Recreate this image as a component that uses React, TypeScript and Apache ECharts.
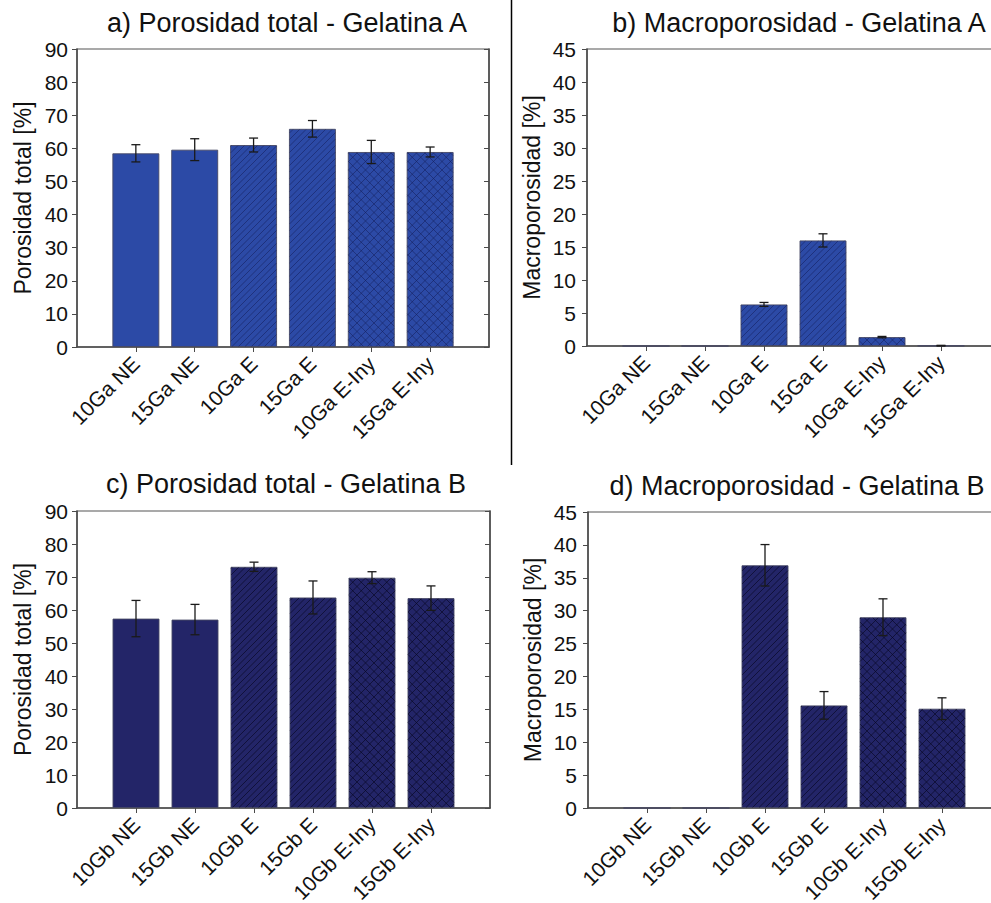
import React, { useEffect, useRef } from 'react';
import * as echarts from 'echarts';

// ---------- data ----------
const catsA = ['10Ga NE', '15Ga NE', '10Ga E', '15Ga E', '10Ga E-Iny', '15Ga E-Iny'];
const catsB = ['10Gb NE', '15Gb NE', '10Gb E', '15Gb E', '10Gb E-Iny', '15Gb E-Iny'];
// 0 = solid, 1 = diagonal hatch, 2 = cross hatch
const patterns = [0, 0, 1, 1, 2, 2];

const totalA = [58.5, 59.6, 61.0, 65.9, 58.9, 58.9];
const totalAErr = [2.6, 3.3, 2.1, 2.5, 3.5, 1.5];
const macroA = [0, 0, 6.3, 16.0, 1.35, 0.05];
const macroAErr = [0, 0, 0.3, 1.0, 0.1, 0.05];
const totalB = [57.4, 57.1, 73.1, 63.8, 69.8, 63.6];
const totalBErr = [5.5, 4.6, 1.4, 5.0, 1.8, 3.7];
const macroB = [0, 0, 36.9, 15.6, 29.0, 15.1];
const macroBErr = [0, 0, 3.15, 2.1, 2.8, 1.65];

const totalTicks = [0, 10, 20, 30, 40, 50, 60, 70, 80, 90];
const macroTicks = [0, 5, 10, 15, 20, 25, 30, 35, 40, 45];

const titles = [
  'a) Porosidad total - Gelatina A',
  'b) Macroporosidad - Gelatina A',
  'c) Porosidad total - Gelatina B',
  'd) Macroporosidad - Gelatina B',
];
const yNames = ['Porosidad total [%]', 'Macroporosidad [%]', 'Porosidad total [%]', 'Macroporosidad [%]'];

// ---------- styling ----------
const FONT = '"Liberation Sans", Arial, Helvetica, sans-serif';
const BAR_W = 47;
const colorA = '#2c4aa6';
const colorB = '#232568';
const hatchA = 'rgba(20,30,90,0.6)';
const hatchB = 'rgba(6,6,32,0.7)';
const AXIS = '#4a4a4a';

const grids = [
  { left: 77, top: 49, width: 412, height: 298 },
  { left: 587, top: 49, width: 413, height: 297 },
  { left: 77, top: 511, width: 413, height: 297 },
  { left: 588, top: 512, width: 413, height: 296 },
];

function makeRenderItem(hatchColor: string) {
  return (params: any, api: any) => {
    const xi = api.value(0);
    const v = api.value(1);
    const e = api.value(2);
    const p = api.value(3);
    const base = api.coord([xi, 0]);
    const top = api.coord([xi, v]);
    const cx = base[0];
    const half = BAR_W / 2;
    const x0 = cx - half + 0.6;
    const x1 = cx + half - 0.6;
    const y0 = top[1] + 0.6;
    const y1 = base[1] - 0.6;
    const children: any[] = [];
    const ls = { stroke: hatchColor, lineWidth: 0.9 };
    if (p >= 1 && y1 - y0 > 1.5) {
      const s = p === 1 ? 6.5 : 8.5;
      // "/" lines: x + y = c
      let c = Math.ceil((x0 + y0) / s) * s;
      for (; c <= x1 + y1; c += s) {
        const xa = Math.max(x0, c - y1);
        const xb = Math.min(x1, c - y0);
        if (xb - xa > 0.3) {
          children.push({ type: 'line', shape: { x1: xa, y1: c - xa, x2: xb, y2: c - xb }, style: ls, silent: true });
        }
      }
      if (p === 2) {
        // "\" lines: y - x = c
        let d = Math.ceil((y0 - x1) / s) * s;
        for (; d <= y1 - x0; d += s) {
          const xa = Math.max(x0, y0 - d);
          const xb = Math.min(x1, y1 - d);
          if (xb - xa > 0.3) {
            children.push({ type: 'line', shape: { x1: xa, y1: xa + d, x2: xb, y2: xb + d }, style: ls, silent: true });
          }
        }
      }
    }
    if (e > 0) {
      const hi = api.coord([xi, v + e])[1];
      const lo = api.coord([xi, Math.max(0, v - e)])[1];
      const es = { stroke: '#1a1a1a', lineWidth: 1.3 };
      const cap = 4.5;
      children.push({ type: 'line', shape: { x1: cx, y1: hi, x2: cx, y2: lo }, style: es });
      children.push({ type: 'line', shape: { x1: cx - cap, y1: hi, x2: cx + cap, y2: hi }, style: es });
      children.push({ type: 'line', shape: { x1: cx - cap, y1: lo, x2: cx + cap, y2: lo }, style: es });
    }
    return { type: 'group', children };
  };
}

export default function App() {
  const ref = useRef<HTMLDivElement>(null);
  useEffect(() => {
    if (!ref.current) return;
    const chart = echarts.init(ref.current, undefined, { renderer: 'svg' });

    const panels = [
      { cats: catsA, vals: totalA, errs: totalAErr, ticks: totalTicks, color: colorA, hatch: hatchA, right: true },
      { cats: catsA, vals: macroA, errs: macroAErr, ticks: macroTicks, color: colorA, hatch: hatchA, right: false },
      { cats: catsB, vals: totalB, errs: totalBErr, ticks: totalTicks, color: colorB, hatch: hatchB, right: true },
      { cats: catsB, vals: macroB, errs: macroBErr, ticks: macroTicks, color: colorB, hatch: hatchB, right: false },
    ];

    const xAxis: any[] = [];
    const yAxis: any[] = [];
    const series: any[] = [];
    const titleOpts: any[] = [];
    const titlePos = [
      { x: 282, y: 4 },
      { x: 794, y: 4 },
      { x: 281, y: 465 },
      { x: 792, y: 467 },
    ];

    panels.forEach((pn, i) => {
      const tk = pn.ticks;
      titleOpts.push({
        text: titles[i],
        left: titlePos[i].x,
        top: titlePos[i].y,
        textAlign: 'center',
        textStyle: { fontFamily: FONT, fontSize: 27, fontWeight: 'normal', color: '#111' },
      });
      xAxis.push({
        type: 'category',
        gridIndex: i,
        data: ['', ...pn.cats, ''],
        boundaryGap: false,
        axisLine: { lineStyle: { color: AXIS, width: 1.5 } },
        axisTick: { show: true, length: 5, interval: (idx: number) => idx >= 1 && idx <= pn.cats.length, lineStyle: { color: AXIS } },
        axisLabel: { interval: 0, rotate: 45, margin: 13, fontSize: 21, color: '#111', fontFamily: FONT },
        splitLine: { show: false },
      });
      yAxis.push({
        type: 'value',
        gridIndex: i,
        min: tk[0],
        max: tk[tk.length - 1],
        interval: tk[1] - tk[0],
        name: yNames[i],
        nameLocation: 'middle',
        nameGap: i % 2 === 0 ? 43 : 44,
        nameTextStyle: { fontFamily: FONT, fontSize: 23, color: '#111' },
        axisLine: { show: true, lineStyle: { color: AXIS, width: 1.5 } },
        axisTick: { show: true, length: 5, lineStyle: { color: AXIS } },
        axisLabel: { fontSize: 21, color: '#111', margin: i % 2 === 0 ? 9 : 11, fontFamily: FONT },
        splitLine: { show: false },
      });
    });
    // right-side axes with inward ticks for panels a and c
    panels.forEach((pn, i) => {
      if (!pn.right) return;
      const tk = pn.ticks;
      yAxis.push({
        type: 'value',
        gridIndex: i,
        position: 'right',
        min: tk[0],
        max: tk[tk.length - 1],
        interval: tk[1] - tk[0],
        axisLine: { show: true, lineStyle: { color: AXIS, width: 1.5 } },
        axisTick: { show: true, inside: true, length: 5, lineStyle: { color: AXIS } },
        axisLabel: { show: false },
        splitLine: { show: false },
      });
    });

    panels.forEach((pn, i) => {
      series.push({
        type: 'bar',
        xAxisIndex: i,
        yAxisIndex: i,
        barWidth: BAR_W,
        data: ['-', ...pn.vals, '-'],
        itemStyle: { color: pn.color, borderColor: 'rgba(70,72,100,0.9)', borderWidth: 1 },
        z: 2,
      });
      series.push({
        type: 'custom',
        xAxisIndex: i,
        yAxisIndex: i,
        clip: false,
        encode: { x: 0, y: 1 },
        data: pn.vals.map((v, k) => [k + 1, v, pn.errs[k], patterns[k]]),
        renderItem: makeRenderItem(pn.hatch),
        z: 3,
      });
    });

    chart.setOption({
      animation: false,
      backgroundColor: '#ffffff',
      textStyle: { fontFamily: FONT },
      title: titleOpts,
      grid: grids.map((g) => ({
        ...g,
        containLabel: false,
        outerBoundsMode: 'none',
        show: true,
        borderColor: '#555',
        borderWidth: 1.2,
        backgroundColor: 'transparent',
      })),
      xAxis,
      yAxis,
      series,
      graphic: [
        { type: 'line', shape: { x1: 511.5, y1: 0, x2: 511.5, y2: 465 }, style: { stroke: '#000', lineWidth: 1.5 } },
      ],
    });
    return () => chart.dispose();
  }, []);
  return <div ref={ref} style={{ position: 'fixed', left: 0, top: 0, width: 991, height: 903, background: '#fff' }} />;
}
